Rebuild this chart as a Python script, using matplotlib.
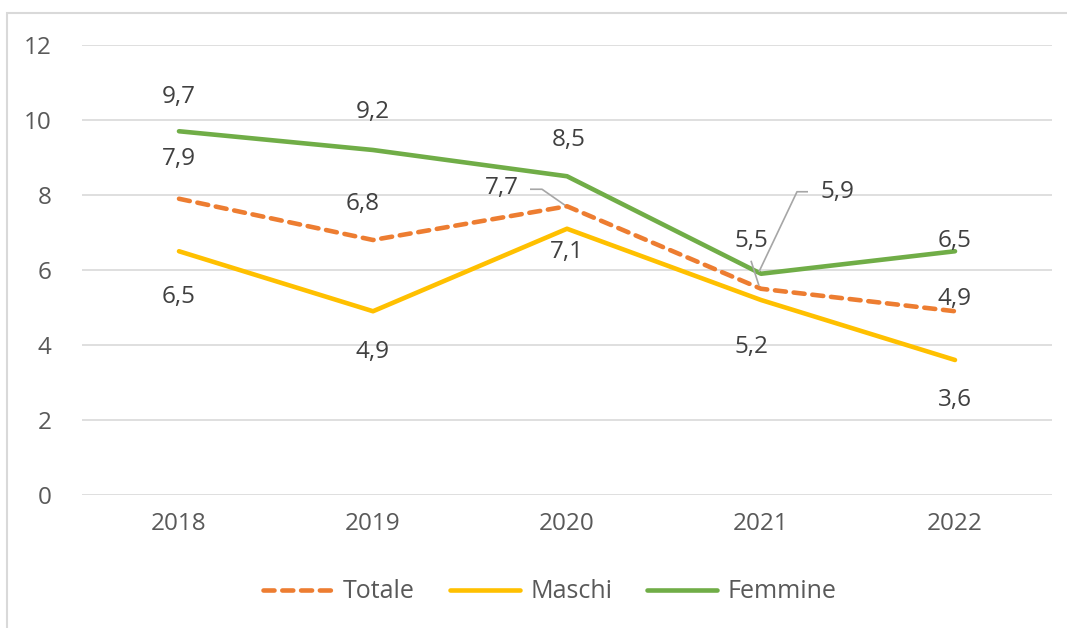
import matplotlib.pyplot as plt
from matplotlib.patches import Rectangle

plt.rcParams['font.family'] = ['Open Sans', 'DejaVu Sans']

# Data
years = ['2018', '2019', '2020', '2021', '2022']
totale = [7.9, 6.8, 7.7, 5.5, 4.9]
maschi = [6.5, 4.9, 7.1, 5.2, 3.6]
femmine = [9.7, 9.2, 8.5, 5.9, 6.5]

# label offsets in pixels (dx, dy) from each point
off_tot = [(0, 40), (-10, 36), (-65, 18), (-10, 48), (0, 12)]
off_mas = [(0, -46), (0, -41), (0, -23), (-10, -47), (0, -40)]
off_fem = [(0, 34), (0, 38), (2, 36), (76, 82), (0, 10)]

c_tot = '#ED7D31'
c_mas = '#FFC000'
c_fem = '#70AD47'
txt = '#404040'
tick = '#595959'
grid = '#D9D9D9'
fs = 17.5

fig = plt.figure(figsize=(10.67, 6.28), dpi=100)
ax = fig.add_axes([82 / 1067, 1 - 495 / 628, 970 / 1067, 450 / 628])

x = list(range(len(years)))
ax.plot(x, totale, color=c_tot, lw=3.3, ls=(0, (2.4, 1.7)), dash_capstyle='round',
        label='Totale', zorder=3)
ax.plot(x, maschi, color=c_mas, lw=3.3, solid_capstyle='round', label='Maschi', zorder=3)
ax.plot(x, femmine, color=c_fem, lw=3.3, solid_capstyle='round', label='Femmine', zorder=4)

ax.set_xlim(-0.5, len(years) - 0.5)
ax.set_ylim(0, 12)
ax.set_yticks(range(0, 13, 2))
ax.set_xticks(x)
ax.set_xticklabels(years)
ax.tick_params(length=0, labelsize=fs, colors=tick, pad=12)
ax.tick_params(axis='y', pad=22)
ax.grid(axis='y', color=grid, lw=1.2)
ax.set_axisbelow(True)
for s in ax.spines.values():
    s.set_visible(False)


def fmt(v):
    return f'{v:.1f}'.replace('.', ',')


def px(dx, dy):
    # pixels to points at dpi 100
    return (dx * 0.72, dy * 0.72)


for series, offs in ((totale, off_tot), (maschi, off_mas), (femmine, off_fem)):
    for i, v in enumerate(series):
        ax.annotate(fmt(v), (i, v), xytext=px(*offs[i]), textcoords='offset points',
                    ha='center', va='center', fontsize=fs, color=txt, zorder=6)

# leader lines (in pixel offsets from the point)
def leader(i, v, pts):
    xy0 = ax.transData.transform((i, v))
    xs = [(xy0[0] + p[0]) for p in pts]
    ys = [(xy0[1] + p[1]) for p in pts]
    inv = ax.transData.inverted()
    d = [inv.transform((a, b)) for a, b in zip(xs, ys)]
    ax.plot([p[0] for p in d], [p[1] for p in d], color='#A6A6A6', lw=1.2,
            zorder=5, solid_capstyle='butt')

fig.canvas.draw()
leader(2, totale[2], [(-2, 1), (-25, 17), (-37, 17)])
leader(3, femmine[3], [(-2, 2), (36, 82), (47, 82)])
leader(3, totale[3], [(-2, 3), (-10, 28)])

leg = ax.legend(loc='center', bbox_to_anchor=(0.482, -0.215), ncol=3, frameon=False,
                fontsize=18, handlelength=2.8, columnspacing=1.4, handletextpad=0.4)
for t in leg.get_texts():
    t.set_color(tick)

# outer chart frame
fig.patches.append(Rectangle((7 / 1067, -0.1), 1.2, 1.1 - 13 / 628, transform=fig.transFigure,
                             fill=False, edgecolor=grid, lw=1.5, zorder=0))

fig.savefig('out.png', dpi=100, facecolor='white')
